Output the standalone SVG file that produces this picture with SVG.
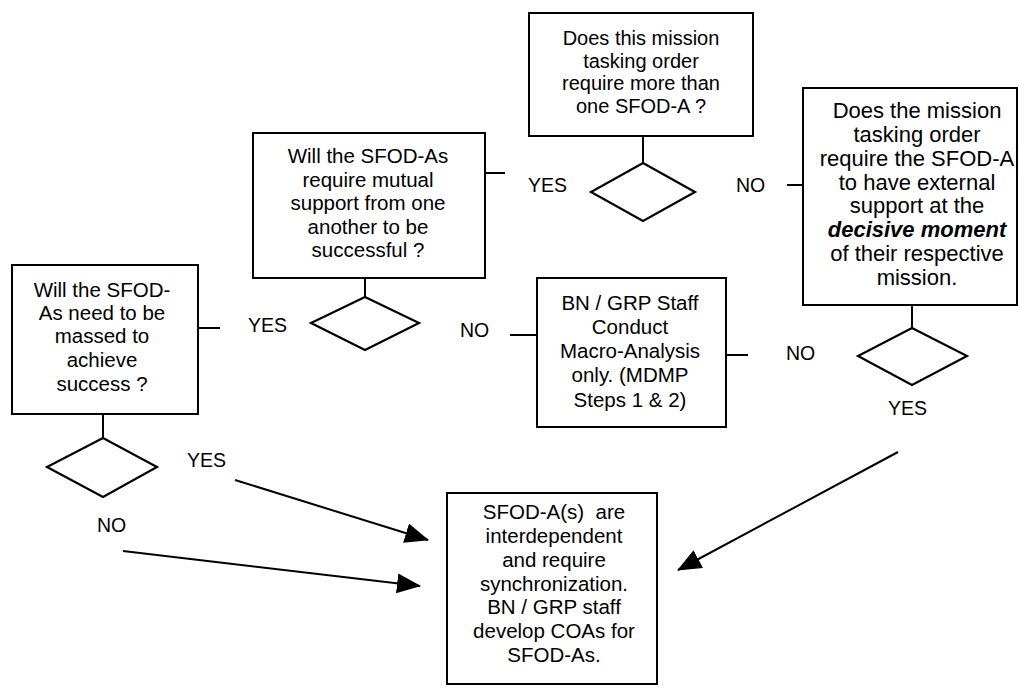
<svg xmlns="http://www.w3.org/2000/svg" width="1019" height="688" viewBox="0 0 1019 688">
<style>
.box{fill:#fff;stroke:#000;stroke-width:2}
.dia{fill:#fff;stroke:#000;stroke-width:2.2}
.ln{fill:none;stroke:#000;stroke-width:2}
text{font-family:"Liberation Sans",Arial,sans-serif;fill:#000;text-anchor:middle}
.t20{font-size:20px}
.t21{font-size:20.5px}
.t22{font-size:22px}
.lbl{font-size:19.5px;text-anchor:start}
.bi{font-weight:bold;font-style:italic}
</style>
<defs>
<marker id="ah" markerUnits="userSpaceOnUse" markerWidth="24" markerHeight="20" refX="23" refY="10" orient="auto">
<path d="M0,0 L24,10 L0,20 Z" fill="#000"/>
</marker>
</defs>
<rect width="1019" height="688" fill="#fff"/>

<g id="connectors">
<line class="ln" x1="643" y1="136" x2="643" y2="163"/>
<line class="ln" x1="485" y1="173" x2="505" y2="173"/>
<line class="ln" x1="787" y1="185" x2="803" y2="185"/>
<line class="ln" x1="365" y1="278" x2="365" y2="297"/>
<line class="ln" x1="198" y1="328" x2="220" y2="328"/>
<line class="ln" x1="510" y1="335" x2="537" y2="335"/>
<line class="ln" x1="727" y1="355" x2="748" y2="355"/>
<line class="ln" x1="912" y1="305" x2="912" y2="328"/>
<line class="ln" x1="103" y1="414" x2="103" y2="438"/>
<line class="ln" x1="235" y1="480" x2="428" y2="540" marker-end="url(#ah)"/>
<line class="ln" x1="123" y1="551" x2="420" y2="586" marker-end="url(#ah)"/>
<line class="ln" x1="898" y1="452" x2="678" y2="570" marker-end="url(#ah)"/>
</g>

<g id="q-more-than-one">
<rect class="box" x="529" y="13" width="224" height="123"/>
<text class="t20" x="641" y="45">Does this mission</text>
<text class="t20" x="641" y="67.5">tasking order</text>
<text class="t20" x="641" y="90">require more than</text>
<text class="t20" x="641" y="113">one SFOD-A ?</text>
</g>
<g id="d-more-than-one">
<polygon class="dia" points="643,163 695,192 643,221 591,192"/>
<text class="lbl" x="528" y="192">YES</text>
<text class="lbl" x="736" y="192">NO</text>
</g>

<g id="q-mutual-support">
<rect class="box" x="253" y="133" width="232" height="145"/>
<text class="t21" x="368" y="163">Will the SFOD-As</text>
<text class="t21" x="368" y="186.5">require mutual</text>
<text class="t21" x="368" y="210">support from one</text>
<text class="t21" x="368" y="233.5">another to be</text>
<text class="t21" x="368" y="257">successful ?</text>
</g>
<g id="d-mutual-support">
<polygon class="dia" points="365,297 419,323 365,350 311,323"/>
<text class="lbl" x="248" y="332">YES</text>
<text class="lbl" x="460" y="337">NO</text>
</g>

<g id="q-external-support">
<rect class="box" x="803" y="88" width="214" height="217"/>
<text class="t22" x="917" y="118">Does the mission</text>
<text class="t22" x="917" y="142">tasking order</text>
<text class="t22" x="917" y="165.5">require the SFOD-A</text>
<text class="t22" x="917" y="189.5">to have external</text>
<text class="t22" x="917" y="213">support at the</text>
<text class="t22 bi" x="917" y="237">decisive moment</text>
<text class="t22" x="917" y="261">of their respective</text>
<text class="t22" x="917" y="285">mission.</text>
</g>
<g id="d-external-support">
<polygon class="dia" points="912,328 967,356 912,385 858,356"/>
<text class="lbl" x="786" y="360">NO</text>
<text class="lbl" x="888" y="415">YES</text>
</g>

<g id="macro-analysis">
<rect class="box" x="537" y="278" width="189" height="149"/>
<text class="t21" x="630" y="310">BN / GRP Staff</text>
<text class="t21" x="630" y="334">Conduct</text>
<text class="t21" x="630" y="358">Macro-Analysis</text>
<text class="t21" x="630" y="382">only. (MDMP</text>
<text class="t21" x="630" y="407">Steps 1 &amp; 2)</text>
</g>

<g id="q-massed">
<rect class="box" x="12" y="265" width="186" height="149"/>
<text class="t21" x="102" y="297">Will the SFOD-</text>
<text class="t21" x="102" y="320">As need to be</text>
<text class="t21" x="102" y="343">massed to</text>
<text class="t21" x="102" y="367">achieve</text>
<text class="t21" x="102" y="391">success ?</text>
</g>
<g id="d-massed">
<polygon class="dia" points="103,438 157,467 103,497 47,467"/>
<text class="lbl" x="187" y="467">YES</text>
<text class="lbl" x="97" y="532">NO</text>
</g>

<g id="interdependent">
<rect class="box" x="447" y="493" width="210" height="191"/>
<text class="t21" x="554" y="519" style="white-space:pre" xml:space="preserve">SFOD-A(s)  are</text>
<text class="t21" x="554" y="543">interdependent</text>
<text class="t21" x="554" y="567">and require</text>
<text class="t21" x="554" y="591">synchronization.</text>
<text class="t21" x="554" y="614">BN / GRP staff</text>
<text class="t21" x="554" y="638">develop COAs for</text>
<text class="t21" x="554" y="662">SFOD-As.</text>
</g>
</svg>
